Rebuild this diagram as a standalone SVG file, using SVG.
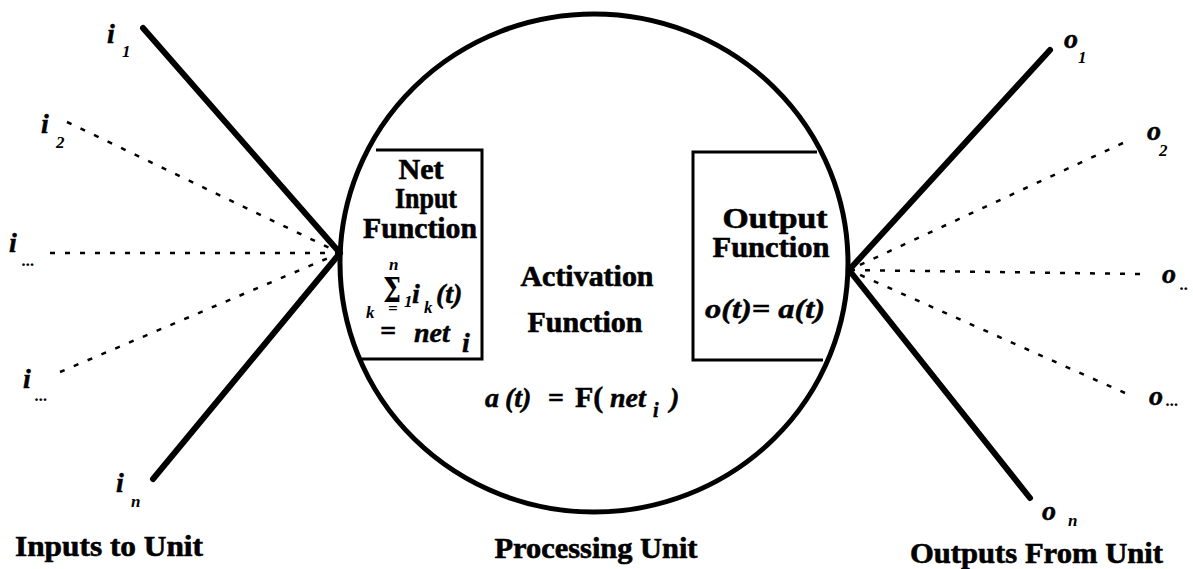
<svg xmlns="http://www.w3.org/2000/svg" width="1193" height="569" viewBox="0 0 1193 569">
<style>
.solid{stroke:#000;stroke-width:6;stroke-linecap:round;fill:none}
.dash{stroke:#000;stroke-width:2.5;stroke-dasharray:5 10;fill:none}
.box{stroke:#000;stroke-width:3;fill:none}
.b{font-family:"Liberation Serif",serif;font-weight:bold;font-size:29px;fill:#000;stroke:#000;stroke-width:0.6}
.v{font-family:"Liberation Serif",serif;font-weight:bold;font-style:italic;font-size:28px;fill:#000;stroke:#000;stroke-width:0.5}
.s{font-family:"Liberation Serif",serif;font-weight:bold;font-style:italic;font-size:17px;fill:#000}
</style>
<rect width="1193" height="569" fill="#fff"/>
<g id="connectors">
<line class="solid" x1="143" y1="28" x2="340" y2="253"/>
<line class="dash" x1="67" y1="122" x2="340" y2="253"/>
<line class="dash" x1="50" y1="253" x2="340" y2="253"/>
<line class="dash" x1="60" y1="372" x2="340" y2="253"/>
<line class="solid" x1="153" y1="479" x2="340" y2="253"/>
<line class="solid" x1="1050" y1="50" x2="849" y2="270"/>
<line class="dash" x1="1123" y1="143" x2="849" y2="270"/>
<line class="dash" x1="1140" y1="274" x2="849" y2="270"/>
<line class="dash" x1="1125" y1="393" x2="849" y2="270"/>
<line class="solid" x1="1030" y1="498" x2="849" y2="270"/>
</g>
<g id="processing-unit">
<ellipse cx="594" cy="263" rx="254" ry="249" fill="none" stroke="#000" stroke-width="5"/>
<text class="b" x="587" y="286" text-anchor="middle" textLength="133" lengthAdjust="spacingAndGlyphs">Activation</text>
<text class="b" x="585" y="332" text-anchor="middle" textLength="115" lengthAdjust="spacingAndGlyphs">Function</text>
<text class="v" y="407"><tspan x="485">a</tspan><tspan x="505">(t)</tspan><tspan x="548" font-style="normal">=</tspan><tspan x="575" font-style="normal" font-size="30">F(</tspan><tspan x="610">net</tspan><tspan x="653" y="417" font-size="20">i</tspan><tspan x="670" y="407">)</tspan></text>
<text class="b" x="596" y="558" text-anchor="middle" textLength="203" lengthAdjust="spacingAndGlyphs">Processing Unit</text>
</g>
<g id="net-input-function">
<path class="box" d="M376 150 H482 V359 H362"/>
<text class="b" x="421" y="179" text-anchor="middle" textLength="45" lengthAdjust="spacingAndGlyphs">Net</text>
<text class="b" x="426" y="208" text-anchor="middle" textLength="62" lengthAdjust="spacingAndGlyphs">Input</text>
<text class="b" x="420" y="238" text-anchor="middle" textLength="114" lengthAdjust="spacingAndGlyphs">Function</text>
<text class="s" x="389" y="270" font-size="13">n</text>
<text x="383" y="302" font-family="'DejaVu Serif',serif" font-weight="bold" font-size="30" transform="translate(383 302) scale(0.85 1.1) translate(-383 -302)">Σ</text>
<text class="s" x="366" y="318">k</text>
<text class="s" x="388" y="314" font-size="13">=</text>
<text class="s" x="404" y="307">1</text>
<text class="v" x="412" y="303">i</text>
<text class="s" x="424" y="313">k</text>
<text class="v" x="436" y="303">(t)</text>
<text class="v" x="380" y="340" font-style="normal">=</text>
<text class="v" x="414" y="342" font-size="30">net</text>
<text class="v" x="462" y="352" font-size="22">i</text>
</g>
<g id="output-function">
<path class="box" d="M817 152 H693 V360 H823"/>
<text class="b" x="775" y="228" text-anchor="middle" textLength="105" lengthAdjust="spacingAndGlyphs">Output</text>
<text class="b" x="771" y="257" text-anchor="middle" textLength="117" lengthAdjust="spacingAndGlyphs">Function</text>
<text class="v" x="705" y="318" textLength="120" lengthAdjust="spacingAndGlyphs">o(t)= a(t)</text>
</g>
<g id="inputs">
<text class="v" x="107" y="43">i</text><text class="s" x="122" y="57">1</text>
<text class="v" x="41" y="133">i</text><text class="s" x="56" y="148">2</text>
<text class="v" x="9" y="252">i</text><text class="s" x="22" y="266">...</text>
<text class="v" x="23" y="388">i</text><text class="s" x="35" y="401">...</text>
<text class="v" x="116" y="492">i</text><text class="s" x="131" y="507">n</text>
<text class="b" x="15" y="556" textLength="188" lengthAdjust="spacingAndGlyphs">Inputs to Unit</text>
</g>
<g id="outputs">
<text class="v" x="1064" y="48">o</text><text class="s" x="1078" y="63">1</text>
<text class="v" x="1147" y="140">o</text><text class="s" x="1159" y="156">2</text>
<text class="v" x="1162" y="283">o</text><text class="s" x="1180" y="290">..</text>
<text class="v" x="1149" y="405">o</text><text class="s" x="1166" y="406">...</text>
<text class="v" x="1042" y="520">o</text><text class="s" x="1068" y="526">n</text>
<text class="b" x="910" y="563" textLength="253" lengthAdjust="spacingAndGlyphs">Outputs From Unit</text>
</g>
</svg>
